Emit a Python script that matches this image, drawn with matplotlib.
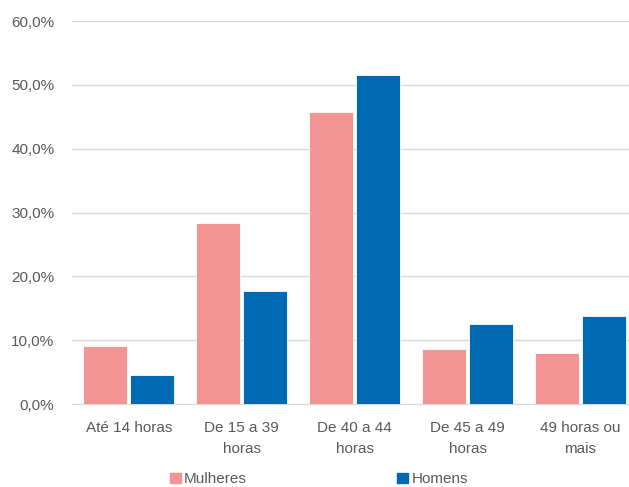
import matplotlib.pyplot as plt
import numpy as np
from matplotlib.patches import Patch
from matplotlib.ticker import FuncFormatter

plt.rcParams['font.family'] = ['Liberation Sans', 'DejaVu Sans']

categorias = ["Até 14 horas", "De 15 a 39\nhoras", "De 40 a 44\nhoras",
              "De 45 a 49\nhoras", "49 horas ou\nmais"]
mulheres = [9.1, 28.4, 45.7, 8.6, 8.0]
homens = [4.5, 17.7, 51.5, 12.5, 13.8]

cor_mulheres = "#F39495"
cor_homens = "#0069B4"
cor_texto = "#595959"

fig = plt.figure(figsize=(6.29, 4.87), dpi=100)
ax = fig.add_axes([0.115, 0.1704, 0.8975, 0.7864])

x = np.arange(len(categorias))
w = 0.39
ax.bar(x - 0.207, mulheres, w, color=cor_mulheres, edgecolor="white", linewidth=0.6, zorder=3)
ax.bar(x + 0.207, homens, w, color=cor_homens, edgecolor="white", linewidth=0.6, zorder=3)

ax.set_xlim(-0.5, len(categorias) - 0.5)
ax.set_ylim(0, 60)
ax.set_yticks(np.arange(0, 61, 10))
ax.yaxis.set_major_formatter(FuncFormatter(lambda v, p: f"{v:.1f}%".replace(".", ",")))
ax.grid(axis="y", color="#d9d9d9", linewidth=1, zorder=0)

ax.set_xticks(x)
ax.set_xticklabels(categorias, linespacing=1.6)
ax.tick_params(axis="both", length=0, labelsize=11, colors=cor_texto)
ax.tick_params(axis="y", pad=13)
ax.tick_params(axis="x", pad=12.5)

for s in ["top", "right", "left"]:
    ax.spines[s].set_visible(False)
ax.spines["bottom"].set_color("#d9d9d9")

handles = [Patch(color=cor_mulheres, label="Mulheres"),
           Patch(color=cor_homens, label="Homens")]
fig.legend(handles=handles, loc="center", bbox_to_anchor=(0.507, 0.0155),
           ncol=2, frameon=False, fontsize=11, labelcolor=cor_texto,
           handlelength=0.7, handleheight=0.7, handletextpad=0.22,
           columnspacing=9.85, borderaxespad=0, borderpad=0)

fig.savefig("out.png", dpi=100)
